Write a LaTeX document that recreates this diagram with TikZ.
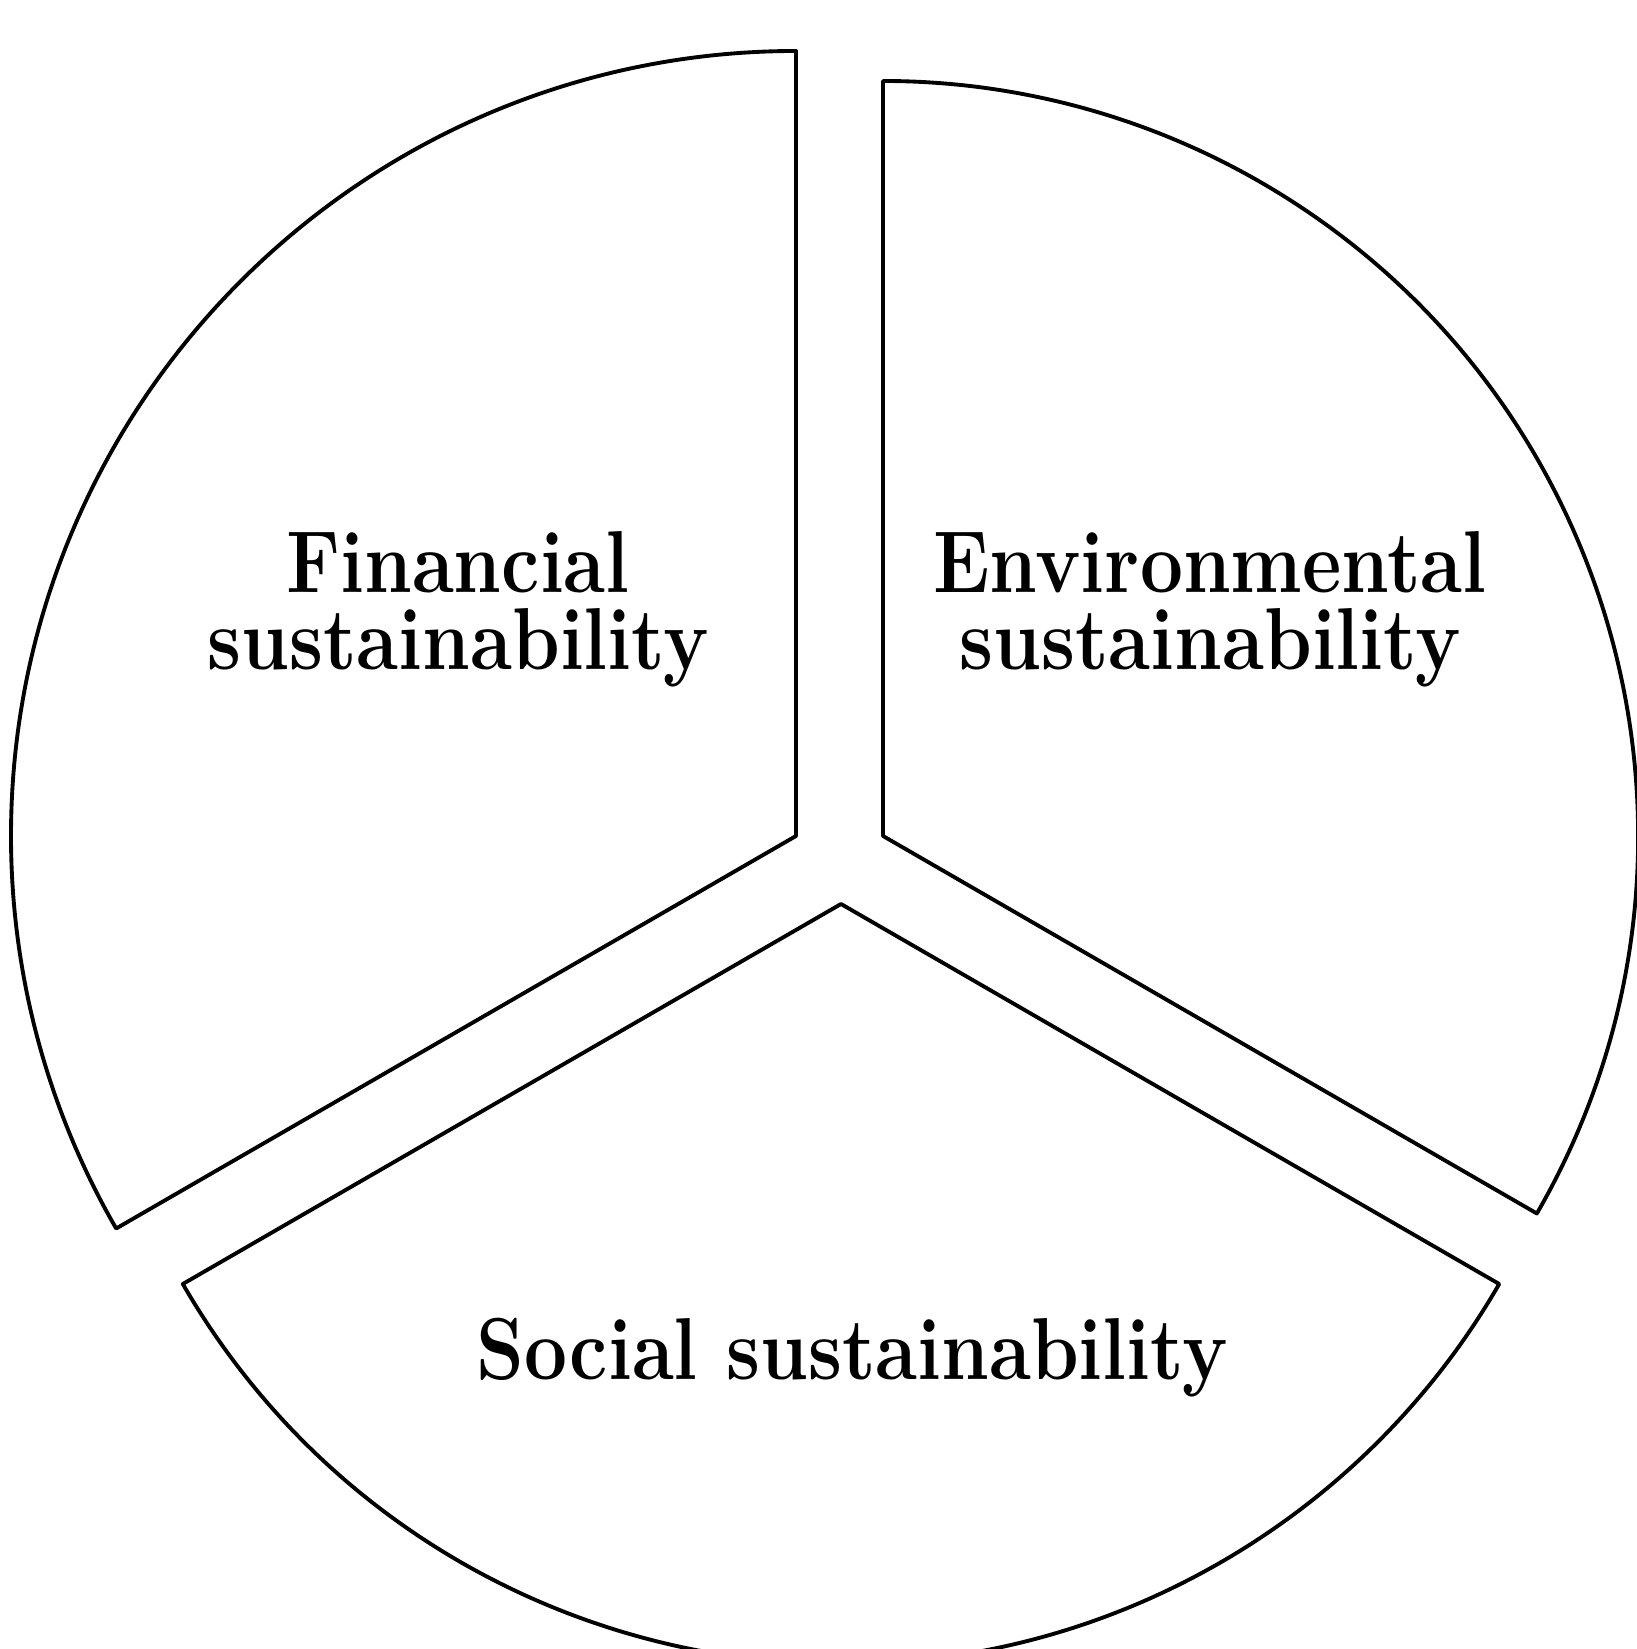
\documentclass[tikz,border=0pt]{standalone}
\begin{document}
\begin{tikzpicture}[x=0.01cm,y=0.01cm,
  sector/.style={draw=black,line width=1.1pt,line join=round},
  label/.style={font=\fontsize{25}{22}\selectfont\bfseries,align=center,inner sep=0pt,xscale=0.87,transform shape}]
\useasboundingbox (0,0) rectangle (1636,1649);
% centres (y = 1649 - pixel row)
\coordinate (cL) at (796,813);
\coordinate (cR) at (883,813);
\coordinate (cB) at (841,745);
% Financial (left) sector
\draw[sector] (cL) -- ++(90:785) arc[start angle=90,end angle=210,radius=785] -- cycle;
% Environmental (right) sector
\draw[sector] (cR) -- ++(-30:755) arc[start angle=-30,end angle=90,radius=755] -- cycle;
% Social (bottom) sector
\draw[sector] (cB) -- ++(210:760) arc[start angle=210,end angle=330,radius=760] -- cycle;
\node[label] (fin) at (458,1040) {Financial\\sustainability};
\node[label] (env) at (1210,1040) {Environmental\\sustainability};
\node[label] (soc) at (852,291) {Social sustainability};
\end{tikzpicture}
\end{document}
